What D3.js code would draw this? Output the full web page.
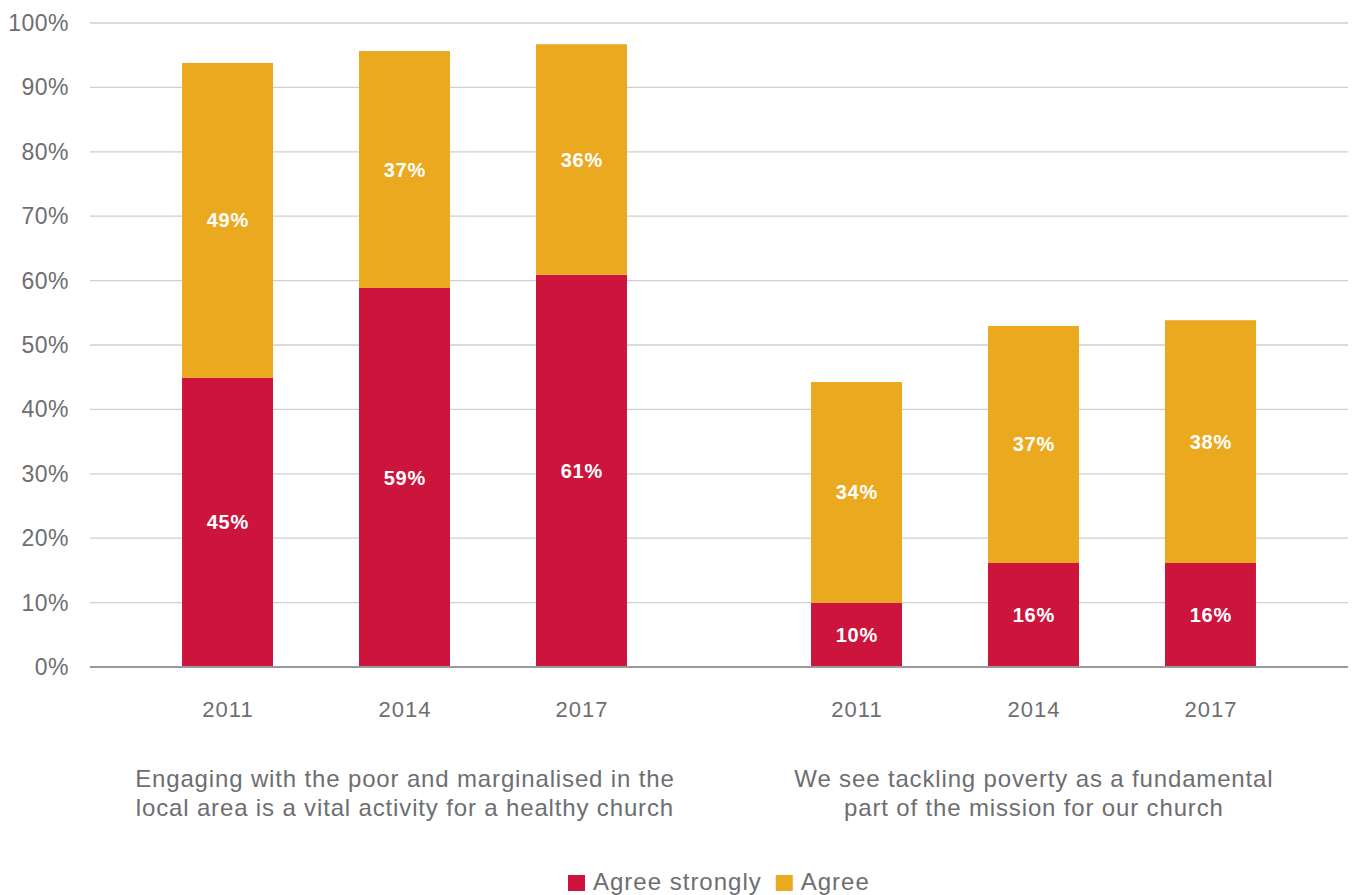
<!DOCTYPE html>
<html>
<head>
<meta charset="utf-8">
<script src="https://cdn.jsdelivr.net/npm/d3@7"></script>
<style>
  body { margin: 0; background: #fff; }
  text { font-family: 'Liberation Sans', Arial, sans-serif; }
</style>
</head>
<body>
<div id="main"></div>
<script>
var groups = ['Engaging with the poor and marginalised in the|local area is a vital activity for a healthy church',
  'We see tackling poverty as a fundamental|part of the mission for our church']
var years = ['2011', '2014', '2017']
var agree_strongly = [[44.9, 58.85, 60.9], [9.95, 16.15, 16.15]]
var agree = [[48.9, 36.8, 35.8], [34.3, 36.8, 37.7]]
var y_ticks = [0, 10, 20, 30, 40, 50, 60, 70, 80, 90, 100]
var legend_items = ['Agree strongly', 'Agree']
var colors = ['#cc143c', '#eba91f']

var w = 1352
var h = 895
var svg = d3.select('div#main').append('svg')
  .attr('width', w)
  .attr('height', h)

var left = 90
var right = 1348
var scale_y = d3.scaleLinear().domain([0, 100]).range([667, 23])
var scale_group = d3.scaleBand().domain(d3.range(groups.length)).range([left, right])
var scale_year = d3.scaleBand().domain(years).range([0, scale_group.bandwidth()])
  .paddingInner(0.486).paddingOuter(0.52)

// grid
y_ticks.forEach(function (t) {
  svg.append('line')
    .attr('x1', left).attr('x2', right)
    .attr('y1', scale_y(t)).attr('y2', scale_y(t))
    .attr('stroke', '#cfcfcf')
    .attr('stroke-width', 1.3)
  svg.append('text').text(t + '%')
    .attr('x', 69)
    .attr('y', scale_y(t) + 8)
    .attr('text-anchor', 'end')
    .style('font-size', '23px')
    .style('letter-spacing', '0.5px')
    .attr('fill', '#6d6e71')
})

groups.forEach(function (gname, gi) {
  var g = svg.append('g').attr('transform', 'translate(' + scale_group(gi) + ',0)')
  years.forEach(function (yr, yi) {
    var x = scale_year(yr)
    var bw = scale_year.bandwidth()
    var s = agree_strongly[gi][yi]
    var a = agree[gi][yi]
    g.append('rect')
      .attr('x', x).attr('width', bw)
      .attr('y', scale_y(s)).attr('height', scale_y(0) - scale_y(s))
      .attr('fill', colors[0])
    g.append('rect')
      .attr('x', x).attr('width', bw)
      .attr('y', scale_y(s + a)).attr('height', scale_y(0) - scale_y(a))
      .attr('fill', colors[1])
    g.append('text').text(Math.round(s) + '%')
      .attr('x', x + bw / 2 + 0.4)
      .attr('y', scale_y(s / 2) + 7)
      .attr('text-anchor', 'middle')
      .style('font-size', '20px').style('font-weight', 'bold')
      .style('letter-spacing', '0.8px')
      .attr('fill', 'white')
    g.append('text').text(Math.round(a) + '%')
      .attr('x', x + bw / 2 + 0.4)
      .attr('y', scale_y(s + a / 2) + 7)
      .attr('text-anchor', 'middle')
      .style('font-size', '20px').style('font-weight', 'bold')
      .style('letter-spacing', '0.8px')
      .attr('fill', 'white')
    g.append('text').text(yr)
      .attr('x', x + bw / 2 + 0.5)
      .attr('y', 717)
      .attr('text-anchor', 'middle')
      .style('font-size', '22px')
      .style('letter-spacing', '1px')
      .attr('fill', '#6d6e71')
  })
  gname.split('|').forEach(function (line, li) {
    g.append('text').text(line)
      .attr('x', scale_group.bandwidth() / 2 + 0.4)
      .attr('y', 787 + li * 29)
      .attr('text-anchor', 'middle')
      .style('font-size', '24px')
      .style('letter-spacing', '0.85px')
      .attr('fill', '#6d6e71')
  })
})

// baseline
svg.append('line')
  .attr('x1', left).attr('x2', right)
  .attr('y1', scale_y(0)).attr('y2', scale_y(0))
  .attr('stroke', '#9a9a9a')
  .attr('stroke-width', 2)

// legend
var lg = svg.append('g')
var lx = 568
legend_items.forEach(function (name, i) {
  lg.append('rect')
    .attr('x', lx).attr('y', 875)
    .attr('width', 17).attr('height', 16)
    .attr('fill', colors[i])
  var t = lg.append('text').text(name)
    .attr('x', lx + 25)
    .attr('y', 890)
    .style('font-size', '24px')
    .style('letter-spacing', '1px')
    .attr('fill', '#6d6e71')
  lx += 25 + t.node().getComputedTextLength() + 14
})
</script>
</body>
</html>
